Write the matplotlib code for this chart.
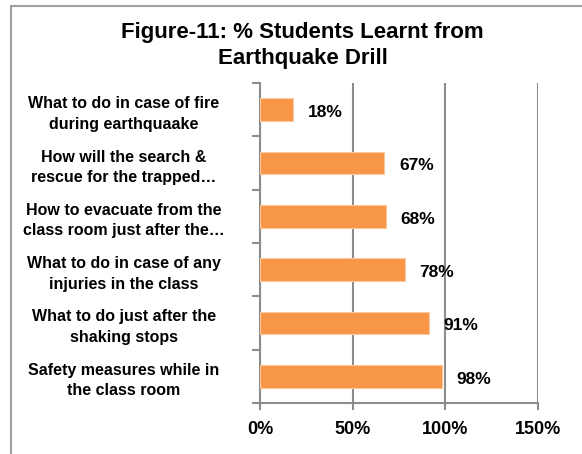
import matplotlib.pyplot as plt
import numpy as np
from matplotlib.patches import Rectangle

plt.rcParams['font.family'] = ['Liberation Sans Narrow', 'Liberation Sans', 'DejaVu Sans']

labels = ["What to do in case of fire\nduring earthquaake",
          "How will the search &\nrescue for the trapped\u2026",
          "How to evacuate from the\nclass room just after the\u2026",
          "What to do in case of any\ninjuries in the class",
          "What to do just after the\nshaking stops",
          "Safety measures while in\nthe class room"]
values = [18, 67, 68, 78, 91, 98]
xticks = [0, 50, 100, 150]

gray = '#8c8c8c'
fig = plt.figure(figsize=(5.82, 4.54), dpi=100)
ax = fig.add_axes([260/582, 1-403/454, 278/582, 320/454])

y = np.arange(len(labels))
ax.barh(y, values, height=0.42, color='#F79646', edgecolor='#fbc9a0', linewidth=0.8, zorder=3)
for yi, v in zip(y, values):
    ax.text(v + 8, yi + 0.05, f"{v}%", va='center', ha='left', fontsize=12.5, fontweight='bold', zorder=4)

ax.set_xlim(0, 150)
ax.set_ylim(len(labels) - 0.5, -0.5)
ax.set_xticks(xticks)
ax.set_xticklabels([f"{t}%" for t in xticks], fontsize=13, fontweight='bold')
ax.xaxis.grid(True, color=gray, linewidth=1.5, zorder=0)
ax.tick_params(axis='x', length=5, width=1.5, color=gray, pad=8)

ax.set_yticks(np.arange(len(labels) + 1) - 0.5)
ax.set_yticklabels([])
ax.tick_params(axis='y', which='major', length=6, width=1.5, color=gray)
ax.set_yticks(y, minor=True)
ax.set_yticklabels(labels, minor=True, fontsize=11.5, fontweight='bold', ha='center', linespacing=1.45)
ax.tick_params(axis='y', which='minor', length=0, pad=98)

for s in ['top', 'right']:
    ax.spines[s].set_visible(False)
for s in ['left', 'bottom']:
    ax.spines[s].set_color(gray)
    ax.spines[s].set_linewidth(1.5)

fig.text(0.52, 0.951, "Figure-11: % Students Learnt from\nEarthquake Drill", ha='center', va='top',
         fontsize=16, fontweight='bold', linespacing=1.3)

fig.patches.append(Rectangle((11/582, -0.1), 1.2, 1 - 6/454 + 0.1, transform=fig.transFigure,
                             fill=False, edgecolor='#a0a0a0', linewidth=1.5))

fig.savefig('out.png', dpi=100)
